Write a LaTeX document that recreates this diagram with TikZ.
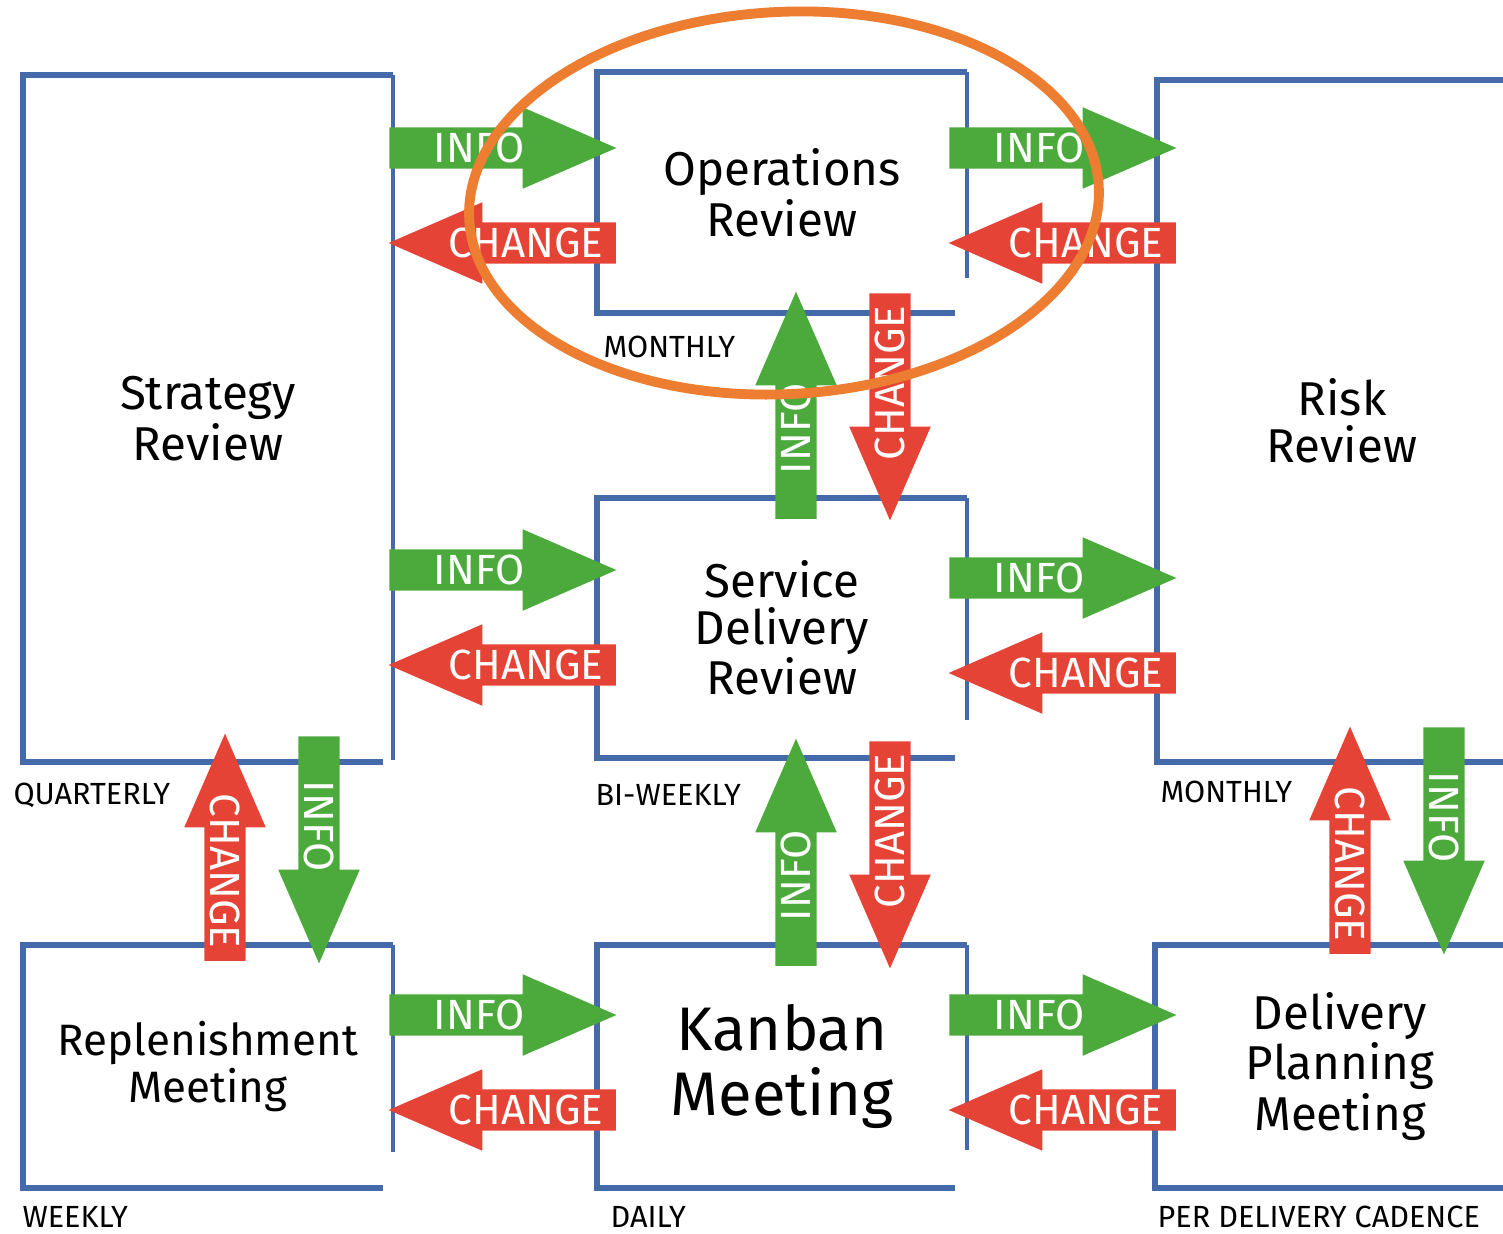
\documentclass[tikz,border=0pt]{standalone}
\usepackage{fontspec}
\setmainfont{Fira Sans}
\usetikzlibrary{positioning,shapes.arrows}
\definecolor{infogreen}{RGB}{76,170,60}
\definecolor{changered}{RGB}{230,67,55}
\definecolor{framecol}{RGB}{68,106,170}
\definecolor{ringorange}{RGB}{237,125,49}

\begin{document}
\begin{tikzpicture}[x=0.01cm,y=-0.01cm,
  box/.style={minimum width=3.7cm,outer sep=0pt,align=center,font=\fontsize{13.5}{13.3}\selectfont},
  frame/.style={framecol,line width=1.7pt},
  thinframe/.style={framecol,line width=1pt},
  freq/.style={anchor=west,inner sep=0pt,font=\fontsize{8.7}{10}\selectfont},
  flow/.style={single arrow,single arrow head extend=0.2cm,single arrow tip angle=47,
    single arrow head indent=0pt,minimum height=2.27cm,inner sep=0pt,
    text height=0.345cm,text depth=0.055cm,text=white,font=\fontsize{12}{13}\selectfont},
  info/.style={flow,fill=infogreen},
  change/.style={flow,fill=changered,shape border rotate=180},
  ring/.style={ringorange,line width=2.8pt}
]
\useasboundingbox (0,0) rectangle (1503,1233);

% meetings
\node[box,minimum height=6.87cm] (strategy) at (208,418.5) {Strategy\\Review};
\node[box,minimum height=2.41cm] (ops) at (782,192.5) {Operations\\Review};
\node[box,minimum height=6.82cm] (risk) at (1342,421) {Risk\\Review};
\node[box,minimum height=2.60cm] (service) at (782,628) {Service\\Delivery\\Review};
\node[box,minimum height=2.43cm,font=\fontsize{12.5}{13.3}\selectfont] (replen) at (208,1066.5) {Replenishment\\Meeting};
\node[box,minimum height=2.43cm,font=\fontsize{17.5}{18.5}\selectfont] (kanban) at (782,1066.5) {Kanban\\Meeting};
\node[box,minimum height=2.43cm] (delivery) at (1340,1066.5) {Delivery\\Planning\\Meeting};

% open frames round the meetings
\draw[frame] (strategy.north east) -- (strategy.north west) -- (strategy.south west) -- ([xshift=-0.1cm]strategy.south east);
\draw[thinframe] (strategy.north east) -- ([yshift=0.02cm]strategy.south east);
\draw[frame] (ops.north east) -- (ops.north west) -- (ops.south west) -- ([xshift=-0.12cm]ops.south east);
\draw[thinframe] (ops.north east) -- ([yshift=0.35cm]ops.south east);
\draw[frame] (service.north east) -- (service.north west) -- (service.south west) -- ([xshift=-0.12cm]service.south east);
\draw[thinframe] (service.north east) -- ([yshift=0.38cm]service.south east);
\draw[frame] (replen.north east) -- (replen.north west) -- (replen.south west) -- ([xshift=-0.1cm]replen.south east);
\draw[thinframe] (replen.north east) -- ([yshift=0.36cm]replen.south east);
\draw[frame] (kanban.north east) -- (kanban.north west) -- (kanban.south west) -- ([xshift=-0.12cm]kanban.south east);
\draw[thinframe] (kanban.north east) -- ([yshift=0.38cm]kanban.south east);
\draw[frame] (risk.north east) -- (risk.north west) -- (risk.south west) -- (risk.south east);
\draw[frame] (delivery.north east) -- (delivery.north west) -- (delivery.south west) -- (delivery.south east);

% cadences
\node[freq] (qtr) at ([shift={(-10,33)}]strategy.south west) {QUARTERLY};
\node[freq] (monthly) at ([shift={(6,34)}]ops.south west) {MONTHLY};
\node[freq] (biweekly) at ([shift={(-2,37)}]service.south west) {BI-WEEKLY};
\node[freq] (riskmonthly) at ([shift={(3,30)}]risk.south west) {MONTHLY};
\node[freq] (weekly) at ([shift={(-1,29)}]replen.south west) {WEEKLY};
\node[freq] (daily) at ([shift={(13,29)}]kanban.south west) {DAILY};
\node[freq] (cadence) at ([shift={(2,29)}]delivery.south west) {PER DELIVERY CADENCE};

% sideways flows
\node[info] (stratops) at (479,148) {INFO};
\node[change] (opsstrat) at (526,243) {CHANGE};
\node[info] (opsrisk) at (1039,148) {INFO};
\node[change] (riskops) at (1086,243) {CHANGE};
\node[info] (stratserv) at (479,570) {INFO};
\node[change] (servstrat) at (526,665) {CHANGE};
\node[info] (servrisk) at (1039,578) {INFO};
\node[change] (riskserv) at (1086,673) {CHANGE};
\node[info] (replkan) at (479,1015) {INFO};
\node[change] (kanrepl) at (526,1110) {CHANGE};
\node[info] (kandel) at (1039,1015) {INFO};
\node[change] (delkan) at (1086,1110) {CHANGE};

% up and down flows
\node[info,rotate=90] (servops) at (796,429) {INFO};
\node[change,rotate=90] (opsserv) at (890,383) {CHANGE};
\node[info,rotate=90] (kanserv) at (796,876) {INFO};
\node[change,rotate=90] (servkan) at (890,831) {CHANGE};
\node[change,rotate=-90] (replstrat) at (225,871) {CHANGE};
\node[info,rotate=-90] (stratrepl) at (319,826) {INFO};
\node[change,rotate=-90] (delrisk) at (1350,864) {CHANGE};
\node[info,rotate=-90] (riskdel) at (1444,817) {INFO};

% highlight
\draw[ring,shift={(784,203)},rotate=3] (0,0) ellipse [x radius=3.15cm,y radius=1.91cm];
\end{tikzpicture}
\end{document}
